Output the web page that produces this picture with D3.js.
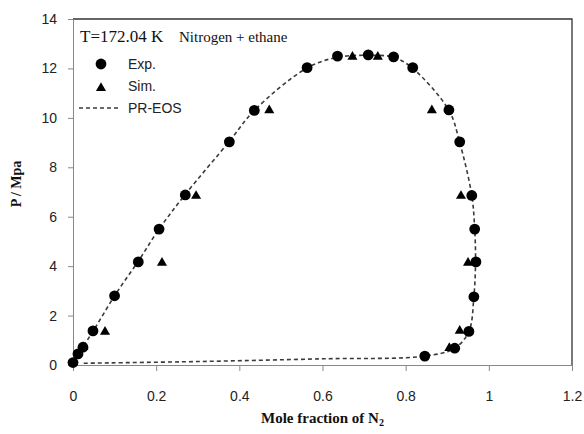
<!DOCTYPE html>
<html>
<head>
<meta charset="utf-8">
<script src="https://cdn.jsdelivr.net/npm/d3@7"></script>
<style>
  body { margin: 0; background: #fff; }
  svg { display: block; }
</style>
</head>
<body>
<div id="chart"></div>
<script>
// experimental points
const expX = [0.0, 0.012, 0.024, 0.048, 0.10, 0.157, 0.207, 0.27, 0.376, 0.436, 0.563, 0.636, 0.71, 0.771, 0.817, 0.904, 0.930, 0.959, 0.966, 0.969, 0.964, 0.952, 0.918, 0.846]
const expY = [0.1, 0.45, 0.72, 1.38, 2.8, 4.17, 5.5, 6.88, 9.03, 10.3, 12.03, 12.5, 12.55, 12.47, 12.03, 10.32, 9.03, 6.86, 5.5, 4.17, 2.76, 1.36, 0.68, 0.36]

// simulation points
const simX = [0.025, 0.077, 0.214, 0.296, 0.472, 0.672, 0.733, 0.863, 0.933, 0.950, 0.930, 0.905]
const simY = [0.72, 1.34, 4.13, 6.84, 10.3, 12.47, 12.47, 10.3, 6.84, 4.13, 1.38, 0.68]

// PR-EOS curve (bubble side, over the top, dew side, back along the bottom)
const eosX = [0.0, 0.012, 0.024, 0.048, 0.10, 0.157, 0.207, 0.27, 0.376, 0.436, 0.563, 0.636, 0.71, 0.771, 0.817, 0.904, 0.930, 0.959, 0.966, 0.968, 0.964, 0.952, 0.918, 0.846, 0.6, 0.3, 0.02]
const eosY = [0.05, 0.42, 0.74, 1.36, 2.8, 4.2, 5.5, 6.9, 9.05, 10.3, 12.02, 12.45, 12.53, 12.45, 12.0, 10.3, 9.0, 6.86, 5.5, 4.17, 2.76, 1.36, 0.68, 0.36, 0.25, 0.14, 0.07]

const xTicks = [0, 0.2, 0.4, 0.6, 0.8, 1, 1.2]
const xTickLabels = ['0', '0.2', '0.4', '0.6', '0.8', '1', '1.2']
const yTicks = [0, 2, 4, 6, 8, 10, 12, 14]
const yTickLabels = ['0', '2', '4', '6', '8', '10', '12', '14']

const width = 584
const height = 434
const margin = {top: 19, right: 12, bottom: 69, left: 73}
const innerW = width - margin.left - margin.right
const innerH = height - margin.top - margin.bottom

const sans = '"Liberation Sans", Arial, sans-serif'
const serif = '"Liberation Serif", "Times New Roman", serif'

const x = d3.scaleLinear().domain([0, 1.2]).range([0, innerW])
const y = d3.scaleLinear().domain([0, 14]).range([innerH, 0])

const svg = d3.select('#chart').append('svg')
  .attr('width', width)
  .attr('height', height)

const g = svg.append('g')
  .attr('transform', 'translate(' + margin.left + ',' + margin.top + ')')

// frame: top and right borders
g.append('path')
  .attr('d', 'M0,0H' + innerW + 'V' + innerH)
  .attr('fill', 'none')
  .attr('stroke', '#333')
  .attr('stroke-width', 1.3)

// x axis
const xAxis = g.append('g')
  .attr('transform', 'translate(0,' + innerH + ')')
  .call(d3.axisBottom(x)
    .tickValues(xTicks)
    .tickFormat((d, i) => xTickLabels[i])
    .tickSize(6)
    .tickSizeOuter(0)
    .tickPadding(20))
xAxis.select('.domain').attr('stroke', '#888')
xAxis.selectAll('.tick line').attr('stroke', '#888')
xAxis.selectAll('text')
  .attr('font-family', sans)
  .attr('font-size', 14)
  .attr('fill', '#222')

// y axis
const yAxis = g.append('g')
  .call(d3.axisLeft(y)
    .tickValues(yTicks)
    .tickFormat((d, i) => yTickLabels[i])
    .tickSize(5)
    .tickSizeOuter(0)
    .tickPadding(11))
yAxis.select('.domain').attr('stroke', '#888')
yAxis.selectAll('.tick line').attr('stroke', '#888')
yAxis.selectAll('text')
  .attr('font-family', sans)
  .attr('font-size', 14)
  .attr('fill', '#222')

// PR-EOS dashed curve
const eos = eosX.map((d, i) => [d, eosY[i]])
const line = d3.line()
  .x(d => x(d[0]))
  .y(d => y(d[1]))
  .curve(d3.curveCatmullRom.alpha(0.5))

g.append('path')
  .datum(eos)
  .attr('d', line)
  .attr('fill', 'none')
  .attr('stroke', '#3a3a3a')
  .attr('stroke-width', 1.6)
  .attr('stroke-dasharray', '4,3')

// Exp. circles
g.selectAll('.exp')
  .data(expX.map((d, i) => [d, expY[i]]))
  .enter().append('circle')
  .attr('class', 'exp')
  .attr('cx', d => x(d[0]))
  .attr('cy', d => y(d[1]))
  .attr('r', 5.4)
  .attr('fill', '#000')

// Sim. triangles
const tri = d3.symbol().type(d3.symbolTriangle).size(44)
g.selectAll('.sim')
  .data(simX.map((d, i) => [d, simY[i]]))
  .enter().append('path')
  .attr('class', 'sim')
  .attr('d', tri)
  .attr('transform', d => 'translate(' + x(d[0]) + ',' + y(d[1]) + ')')
  .attr('fill', '#000')

// title texts
svg.append('text')
  .attr('x', 80).attr('y', 42)
  .attr('font-family', serif)
  .attr('font-size', 17)
  .attr('fill', '#111')
  .text('T=172.04 K')

svg.append('text')
  .attr('x', 179).attr('y', 42)
  .attr('font-family', serif)
  .attr('font-size', 15)
  .attr('fill', '#111')
  .text('Nitrogen + ethane')

// legend
const legend = svg.append('g')
legend.append('circle')
  .attr('cx', 101).attr('cy', 64).attr('r', 5.4).attr('fill', '#000')
legend.append('path')
  .attr('d', tri)
  .attr('transform', 'translate(101,88)')
  .attr('fill', '#000')
legend.append('line')
  .attr('x1', 79).attr('x2', 121).attr('y1', 108).attr('y2', 108)
  .attr('stroke', '#3a3a3a')
  .attr('stroke-width', 1.6)
  .attr('stroke-dasharray', '4,3')

const legendItems = ['Exp.', 'Sim.', 'PR-EOS']
legend.selectAll('.ltext')
  .data(legendItems)
  .enter().append('text')
  .attr('class', 'ltext')
  .attr('x', 128)
  .attr('y', (d, i) => 69 + i * 22)
  .attr('font-family', sans)
  .attr('font-size', 14)
  .attr('fill', '#222')
  .text(d => d)

// axis titles
const xLabel = svg.append('text')
  .attr('x', margin.left + innerW / 2)
  .attr('y', 423)
  .attr('text-anchor', 'middle')
  .attr('font-family', serif)
  .attr('font-size', 15)
  .attr('font-weight', 'bold')
  .attr('fill', '#111')
xLabel.append('tspan').text('Mole fraction of N')
xLabel.append('tspan')
  .attr('font-size', 10)
  .attr('dy', 3)
  .text('2')

svg.append('text')
  .attr('transform', 'translate(21,184) rotate(-90)')
  .attr('text-anchor', 'middle')
  .attr('font-family', serif)
  .attr('font-size', 14)
  .attr('font-weight', 'bold')
  .attr('fill', '#111')
  .text('P / Mpa')
</script>
</body>
</html>
